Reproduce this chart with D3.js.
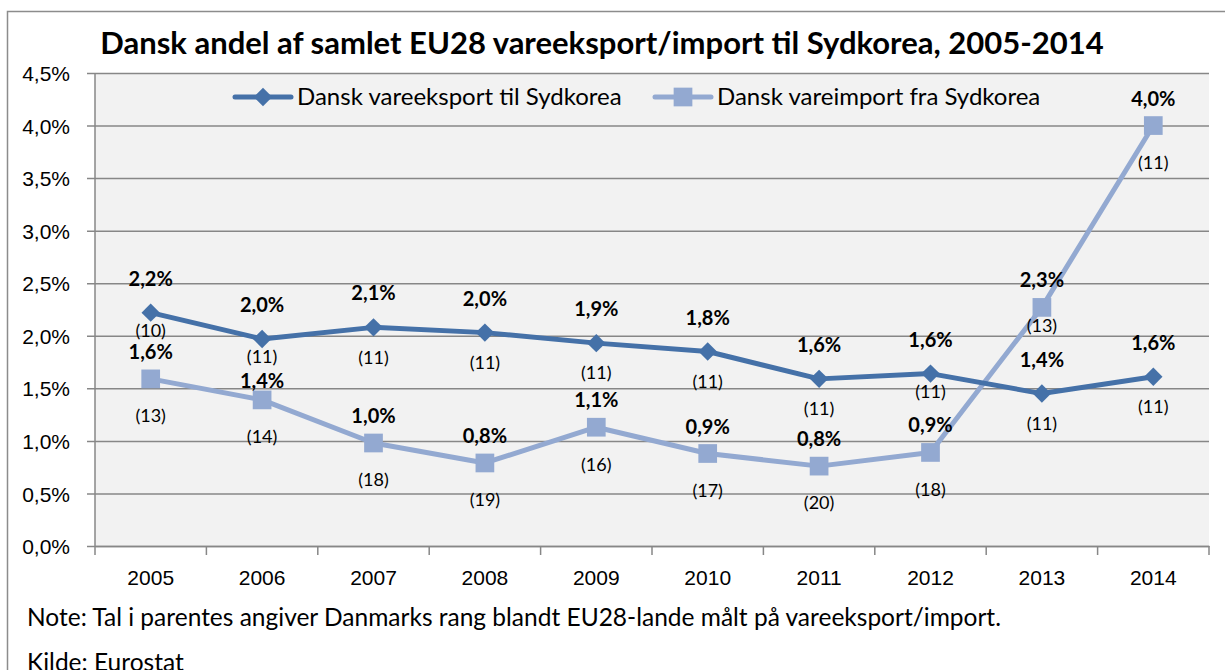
<!DOCTYPE html>
<html>
<head>
<meta charset="utf-8">
<script src="https://cdn.jsdelivr.net/npm/d3@7"></script>
<style>
  body { margin: 0; background: #fff; }
  svg { display: block; font-family: Lato, "Open Sans", sans-serif; }
</style>
</head>
<body>
<svg id="chart" width="1225" height="670"></svg>
<script>
// data
var years = ["2005", "2006", "2007", "2008", "2009", "2010", "2011", "2012", "2013", "2014"];
var eksport = [2.22, 1.97, 2.08, 2.03, 1.93, 1.85, 1.59, 1.64, 1.45, 1.61];
var eksportRang = [10, 11, 11, 11, 11, 11, 11, 11, 11, 11];
var eksportLabel = ["2,2%", "2,0%", "2,1%", "2,0%", "1,9%", "1,8%", "1,6%", "1,6%", "1,4%", "1,6%"];
var import_ = [1.59, 1.39, 0.98, 0.79, 1.13, 0.88, 0.76, 0.89, 2.27, 4.0];
var importRang = [13, 14, 18, 19, 16, 17, 20, 18, 13, 11];
var importLabel = ["1,6%", "1,4%", "1,0%", "0,8%", "1,1%", "0,9%", "0,8%", "0,9%", "2,3%", "4,0%"];
var yTicks = [0, 0.5, 1, 1.5, 2, 2.5, 3, 3.5, 4, 4.5];

var svg = d3.select("#chart");

// outer frame
svg.append("rect")
	.attr("x", 7.5).attr("y", 11.5)
	.attr("width", 1240).attr("height", 680)
	.style("fill", "#fff")
	.style("stroke", "#8c8c8c")
	.style("stroke-width", 1.5);

var pLeft = 95, pRight = 1209, pTop = 73, pBottom = 546;

var x = d3.scaleBand().domain(years).range([pLeft, pRight]);
var y = d3.scaleLinear().domain([0, 4.5]).range([pBottom, pTop]);

// plot area
svg.append("rect")
	.attr("x", pLeft).attr("y", pTop)
	.attr("width", pRight - pLeft).attr("height", pBottom - pTop)
	.style("fill", "#f2f2f2");

var fmt = function(d) { return d.toFixed(1).replace(".", ",") + "%"; };

// y axis + grid
var yAxis = svg.append("g")
	.attr("transform", "translate(" + pLeft + ",0)")
	.call(d3.axisLeft(y).tickValues(yTicks).tickFormat(fmt).tickSize(8).tickPadding(17));
yAxis.select(".domain").remove();
yAxis.selectAll(".tick line")
	.attr("x1", -8).attr("x2", pRight - pLeft)
	.style("stroke", "#878787").style("stroke-width", 1.5);
yAxis.selectAll(".tick text")
	.style("font-size", "21px").style("fill", "#000").attr("dy", "0.36em");

svg.append("line")
	.attr("x1", pLeft).attr("x2", pLeft).attr("y1", pTop).attr("y2", pBottom)
	.style("stroke", "#878787").style("stroke-width", 1.5);

// x axis
var xAxis = svg.append("g")
	.attr("transform", "translate(0," + pBottom + ")")
	.call(d3.axisBottom(x).tickSize(0).tickPadding(24));
xAxis.select(".domain")
	.style("stroke", "#878787").style("stroke-width", 1.5);
xAxis.selectAll(".tick text").style("font-size", "21px").style("fill", "#000");

// category boundary ticks
svg.append("g").selectAll("line")
	.data(years.concat(["end"]))
	.enter().append("line")
	.attr("x1", function(d, i) { return i < years.length ? x(d) : x.range()[1]; })
	.attr("x2", function(d, i) { return i < years.length ? x(d) : x.range()[1]; })
	.attr("y1", pBottom).attr("y2", pBottom + 9)
	.style("stroke", "#878787").style("stroke-width", 1.5);

var cx = function(i) { return x(years[i]) + x.bandwidth() / 2; };

var series = [
	{ values: eksport, rang: eksportRang, labels: eksportLabel, color: "#4571a8", marker: d3.symbolSquare, rot: 45, size: 170, above: 34, below: 30 },
	{ values: import_, rang: importRang, labels: importLabel, color: "#93a9d1", marker: d3.symbolSquare, rot: 0, size: 350, above: 27, below: 37 }
];

var line = d3.line()
	.x(function(d, i) { return cx(i); })
	.y(function(d) { return y(d); });

// draw import first so export sits on top like the original
[series[1], series[0]].forEach(function(s) {
	svg.append("path")
		.datum(s.values)
		.attr("d", line)
		.style("fill", "none")
		.style("stroke", s.color)
		.style("stroke-width", 5)
		.style("stroke-linejoin", "round");

	svg.append("g").selectAll("path")
		.data(s.values)
		.enter().append("path")
		.attr("d", d3.symbol().type(s.marker).size(s.size))
		.attr("transform", function(d, i) { return "translate(" + cx(i) + "," + y(d) + ") rotate(" + s.rot + ")"; })
		.style("fill", s.color);
});

// label placement: nudge labels closer to the marker where the two series crowd each other
function valueY(s, i) {
	return y(s.values[i]) - s.above;
}
function rankY(s, other, i) {
	var yy = y(s.values[i]) + s.below;
	if (Math.abs(yy - valueY(other, i)) < 22) yy = y(s.values[i]) + 18;
	return yy;
}
function valueYFinal(s, other, i) {
	var yy = valueY(s, i);
	if (Math.abs(yy - rankY(other, s, i)) < 18) yy = y(s.values[i]) - 19;
	return yy;
}

series.forEach(function(s, k) {
	var other = series[1 - k];
	svg.append("g").selectAll("text")
		.data(s.values)
		.enter().append("text")
		.attr("x", function(d, i) { return cx(i); })
		.attr("y", function(d, i) { return valueYFinal(s, other, i); })
		.attr("dy", "0.35em")
		.attr("text-anchor", "middle")
		.style("font-size", "20px").style("font-weight", "bold")
		.text(function(d, i) { return s.labels[i]; });

	svg.append("g").selectAll("text")
		.data(s.values)
		.enter().append("text")
		.attr("x", function(d, i) { return cx(i); })
		.attr("y", function(d, i) { return rankY(s, other, i); })
		.attr("dy", "0.35em")
		.attr("text-anchor", "middle")
		.style("font-size", "18px")
		.text(function(d, i) { return "(" + s.rang[i] + ")"; });
});

// title
svg.append("text")
	.attr("x", 602).attr("y", 54)
	.attr("text-anchor", "middle")
	.style("font-size", "31px").style("font-weight", "bold")
	.text("Dansk andel af samlet EU28 vareeksport/import til Sydkorea, 2005-2014");

// legend
var legend = [
	{ name: "Dansk vareeksport til Sydkorea", s: series[0], x: 235 },
	{ name: "Dansk vareimport fra Sydkorea", s: series[1], x: 655 }
];
legend.forEach(function(l) {
	var g = svg.append("g").attr("transform", "translate(" + l.x + ",97)");
	g.append("line").attr("x1", 0).attr("x2", 56)
		.style("stroke", l.s.color).style("stroke-width", 5).style("stroke-linecap", "round");
	g.append("path").attr("d", d3.symbol().type(l.s.marker).size(l.s.size))
		.attr("transform", "translate(28,0) rotate(" + l.s.rot + ")").style("fill", l.s.color);
	g.append("text").attr("x", 62).attr("dy", "0.35em")
		.style("font-size", "24px").text(l.name);
});

// notes
svg.append("text").attr("x", 27).attr("y", 626)
	.style("font-size", "24.5px")
	.text("Note: Tal i parentes angiver Danmarks rang blandt EU28-lande målt på vareeksport/import.");
svg.append("text").attr("x", 27).attr("y", 671)
	.style("font-size", "24.5px")
	.text("Kilde: Eurostat");
</script>
</body>
</html>
